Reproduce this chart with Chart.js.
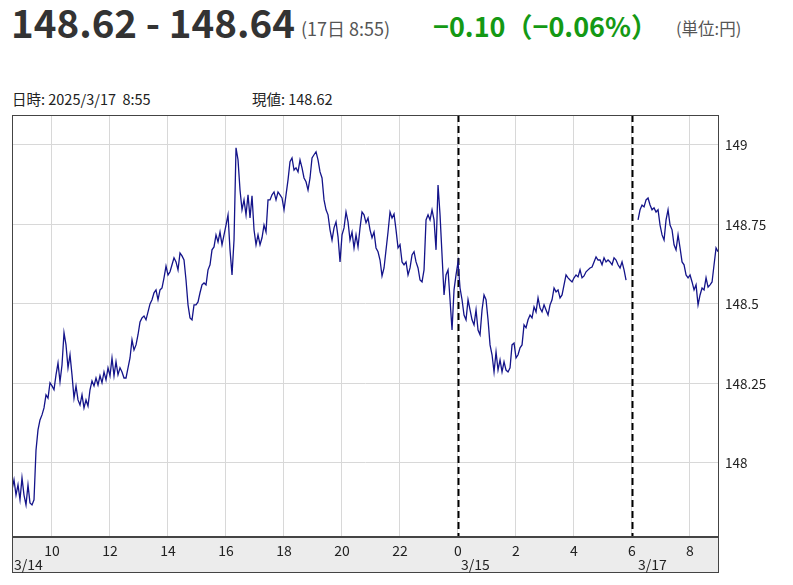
<!DOCTYPE html>
<html><head><meta charset="utf-8">
<script src="https://cdn.jsdelivr.net/npm/chart.js@4.4.1/dist/chart.umd.min.js"></script>
<style>
body{margin:0;background:#fff;width:793px;height:585px;overflow:hidden;font-family:"Noto Sans CJK JP","Noto Sans",sans-serif;}
#wrap{position:absolute;left:0;top:0;width:793px;height:585px;}
.t{position:absolute;white-space:nowrap;}
</style></head><body>
<div class="t" style="left:11px;top:-7px;font-size:38.5px;font-weight:bold;color:#333;">148.62 - 148.64</div>
<div class="t" style="left:301px;top:15px;font-size:18px;color:#555;">(17日 8:55)</div>
<div class="t" style="left:433px;top:6px;font-size:27px;font-weight:bold;color:#149914;">−0.10（−0.06%）</div>
<div class="t" style="left:676px;top:16px;font-size:16.5px;color:#555;">(単位:円)</div>
<div class="t" style="left:12px;top:88px;font-size:14.5px;color:#222;">日時: 2025/3/17&nbsp; 8:55</div>
<div class="t" style="left:252px;top:88px;font-size:14.5px;color:#222;">現値: 148.62</div>
<div id="wrap"><canvas id="c" width="793" height="585"></canvas></div>
<script>
// Sampling grid: start hour (continuous axis, 3/14 8:37) and step (hours)
const startHour = 8.621;
const stepHour = 0.06897;
const xTicks = [10,12,14,16,18,20,22,24,26,28,30,32];
const dateLabels = [{at:10, text:"3/14", dx:-38},{at:24, text:"3/15", dx:3},{at:30, text:"3/17", dx:6}];
const sessionBreaks = [24, 30];
const yTicks = [148, 148.25, 148.5, 148.75, 149];
const yTickLabels = ["148","148.25","148.5","148.75","149"];
const prices = [
147.915,147.947,147.899,147.931,147.884,147.953,147.899,147.868,147.931,147.874,147.868,147.884,148.040,148.104,148.135,148.151,148.173,148.214,148.204,148.252,
148.242,148.230,148.277,148.314,148.255,148.308,148.409,148.371,148.299,148.340,148.277,148.204,148.242,148.198,148.182,148.214,148.173,148.198,148.179,148.230,
148.258,148.242,148.267,148.245,148.274,148.252,148.286,148.261,148.299,148.274,148.330,148.274,148.318,148.277,148.299,148.286,148.267,148.267,148.299,148.330,
148.387,148.355,148.371,148.403,148.443,148.456,148.462,148.450,148.475,148.500,148.513,148.535,148.544,148.513,148.544,148.550,148.582,148.619,148.591,148.601,
148.623,148.645,148.632,148.607,148.660,148.651,148.638,148.575,148.497,148.456,148.450,148.497,148.497,148.506,148.535,148.560,148.566,148.560,148.607,148.623,
148.670,148.679,148.717,148.695,148.726,148.686,148.717,148.748,148.780,148.670,148.591,148.701,148.991,148.953,148.858,148.796,148.827,148.780,148.843,148.770,
148.840,148.733,148.686,148.717,148.686,148.708,148.748,148.726,148.827,148.827,148.843,148.852,148.827,148.852,148.843,148.833,148.796,148.843,148.890,148.947,
148.959,148.921,148.928,148.915,148.953,148.928,148.896,148.884,148.858,148.896,148.959,148.969,148.978,148.953,148.915,148.896,148.827,148.796,148.780,148.733,
148.701,148.739,148.758,148.711,148.632,148.717,148.739,148.789,148.758,148.701,148.726,148.676,148.717,148.679,148.739,148.789,148.780,148.755,148.770,148.733,
148.708,148.726,148.676,148.664,148.638,148.588,148.613,148.670,148.726,148.789,148.770,148.783,148.733,148.676,148.686,148.632,148.623,148.632,148.591,148.613,
148.654,148.664,148.632,148.613,148.575,148.569,148.607,148.764,148.780,148.764,148.796,148.764,148.670,148.874,148.780,148.654,148.528,148.591,148.607,148.513,
148.418,148.544,148.591,148.632,148.550,148.513,148.465,148.450,148.513,148.481,148.450,148.434,148.481,148.418,148.403,148.481,148.528,148.513,148.450,148.371,
148.340,148.286,148.349,148.292,148.324,148.286,148.318,148.292,148.286,148.299,148.371,148.377,148.330,148.340,148.362,148.371,148.434,148.425,148.450,148.465,
148.456,148.491,148.475,148.519,148.487,148.475,148.497,148.481,148.465,148.497,148.513,148.550,148.538,148.544,148.519,148.528,148.560,148.591,148.582,148.575,
148.569,148.582,148.591,148.585,148.607,148.582,148.588,148.601,148.607,148.613,148.616,148.632,148.648,148.638,148.638,148.623,148.645,148.632,148.638,148.632,
148.623,148.645,148.638,148.623,148.613,148.632,148.607,148.575,null,null,null,null,null,148.764,148.796,148.811,148.805,148.827,148.833,148.811,
148.796,148.802,148.789,148.796,148.748,148.717,148.701,148.764,148.796,148.748,148.733,148.686,148.670,148.717,148.676,148.632,148.623,148.591,148.582,148.591,
148.569,148.544,148.560,148.497,148.528,148.550,148.544,148.582,148.553,148.560,148.569,148.623,148.676,148.664
];
const points = prices.map((p,i)=>({x:startHour+i*stepHour, y:p}));

const decor = {
  id:'decor',
  beforeDatasetsDraw(ch){
    const {ctx, chartArea:a, scales:{x}} = ch;
    ctx.save();
    ctx.strokeStyle='#000'; ctx.lineWidth=2; ctx.setLineDash([7,4]);
    sessionBreaks.forEach(v=>{const px=Math.round(x.getPixelForValue(v))+0.5;
      ctx.beginPath(); ctx.moveTo(px,a.top); ctx.lineTo(px,a.bottom); ctx.stroke();});
    ctx.restore();
  },
  afterDraw(ch){
    const {ctx, chartArea:a, scales:{x}} = ch;
    ctx.save();
    ctx.fillStyle='#ececec'; ctx.fillRect(a.left,a.bottom,a.right-a.left,35);
    ctx.strokeStyle='#444'; ctx.lineWidth=1;
    ctx.strokeRect(a.left+0.5,a.bottom+0.5,a.right-a.left-1,35);
    ctx.strokeRect(a.left+0.5,a.top+0.5,a.right-a.left-1,a.bottom-a.top);
    ctx.lineWidth=2; ctx.beginPath(); ctx.moveTo(a.left,a.bottom); ctx.lineTo(a.right,a.bottom); ctx.stroke();
    ctx.fillStyle='#222'; ctx.font='14px "Noto Sans CJK JP", sans-serif';
    ctx.textAlign='center'; ctx.textBaseline='alphabetic';
    xTicks.forEach(v=>ctx.fillText(String(v%24), x.getPixelForValue(v), a.bottom+19));
    ctx.textAlign='left';
    dateLabels.forEach(d=>ctx.fillText(d.text, x.getPixelForValue(d.at)+d.dx, a.bottom+33));
    ctx.restore();
  }
};

new Chart(document.getElementById('c'),{
  type:'line',
  data:{datasets:[{data:points, borderColor:'#14148a', borderWidth:1.3, pointRadius:0, tension:0, spanGaps:false}]},
  options:{
    responsive:false, animation:false, events:[],
    layout:{padding:{left:12, top:115, bottom:48, right:0}},
    plugins:{legend:{display:false}, tooltip:{enabled:false}},
    scales:{
      x:{type:'linear', min:startHour, max:33.0,
        afterBuildTicks(s){s.ticks=xTicks.map(v=>({value:v}));},
        ticks:{display:false}, border:{display:false},
        grid:{color:'#d8d8d8', lineWidth:1, drawTicks:false},
        afterFit(s){s.height=0;}},
      y:{position:'right', min:147.767, max:149.094,
        afterBuildTicks(s){s.ticks=yTicks.map(v=>({value:v}));},
        ticks:{padding:6, color:'#222', font:{size:13.5, family:'"Noto Sans CJK JP", sans-serif'},
          callback:(v)=>yTickLabels[yTicks.indexOf(v)] ?? ''},
        border:{display:false},
        grid:{color:'#d8d8d8', lineWidth:1, drawTicks:false},
        afterFit(s){s.width=74;}}
    }
  },
  plugins:[decor]
});
</script>
</body></html>
